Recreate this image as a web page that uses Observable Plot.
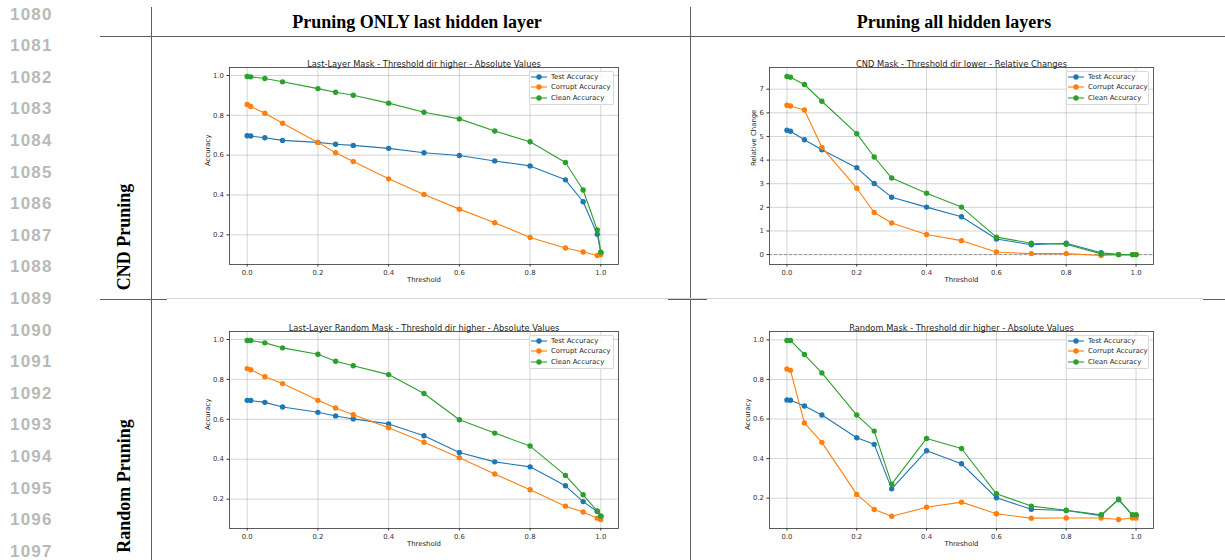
<!DOCTYPE html>
<html><head><meta charset="utf-8">
<script src="https://cdn.jsdelivr.net/npm/d3@7"></script>
<script src="https://cdn.jsdelivr.net/npm/@observablehq/plot@0.6"></script>
<style>
body{margin:0;background:#fff;}
#page{position:relative;width:1225px;height:560px;overflow:hidden;background:#fff;}
.ln{position:absolute;left:10px;font-family:"Liberation Sans",Arial,sans-serif;font-weight:bold;font-size:17px;line-height:17px;color:#b9b9b9;letter-spacing:1.2px;}
.hdr{position:absolute;font-family:"Liberation Serif","Times New Roman",serif;font-weight:bold;font-size:18px;line-height:18px;white-space:nowrap;transform:translateX(-50%);color:#000;}
.rowlab{position:absolute;font-family:"Liberation Serif","Times New Roman",serif;font-weight:bold;font-size:18px;line-height:18px;white-space:nowrap;transform:translate(-50%,-50%) rotate(-90deg);color:#000;}
.rule{position:absolute;background:#5e5e5e;}
.panel{position:absolute;}
.legend{position:absolute;border:1px solid #d9d9d9;border-radius:2px;background:rgba(255,255,255,0.85);box-sizing:border-box;}
.legend .lt{position:absolute;font-family:"DejaVu Sans",sans-serif;font-size:6.9px;line-height:8px;color:#262626;white-space:nowrap;}
.legend svg{position:absolute;overflow:visible;}
</style>
</head><body>
<div id="page"></div>
<script>
// ---------- data ----------
const lineNumbers = [1080,1081,1082,1083,1084,1085,1086,1087,1088,1089,1090,1091,1092,1093,1094,1095,1096,1097];
const columnHeaders = ["Pruning ONLY last hidden layer", "Pruning all hidden layers"];
const rowHeaders = ["CND Pruning", "Random Pruning"];
const seriesNames = ["Test Accuracy", "Corrupt Accuracy", "Clean Accuracy"];
const seriesColors = ["#1f77b4", "#ff7f0e", "#2ca02c"];
const thresholds = [0, 0.01, 0.05, 0.1, 0.2, 0.25, 0.3, 0.4, 0.5, 0.6, 0.7, 0.8, 0.9, 0.95, 0.99, 1.0];
const xTicks = [0, 0.2, 0.4, 0.6, 0.8, 1.0];
const accTicks = [0.2, 0.4, 0.6, 0.8, 1.0];
const relTicks = [0, 1, 2, 3, 4, 5, 6, 7];

// Last-Layer Mask (CND, last layer)
const llTest    = [0.697,0.696,0.687,0.674,0.664,0.655,0.649,0.634,0.612,0.598,0.571,0.546,0.476,0.366,0.203,0.111];
const llCorrupt = [0.854,0.844,0.810,0.760,0.664,0.612,0.568,0.481,0.403,0.329,0.261,0.187,0.134,0.114,0.096,0.101];
const llClean   = [0.995,0.993,0.985,0.968,0.934,0.916,0.901,0.861,0.815,0.782,0.721,0.667,0.563,0.425,0.224,0.113];
// CND Mask relative changes (all layers)
const cndTest    = [5.26,5.22,4.86,4.44,3.68,3.01,2.43,2.01,1.60,0.66,0.42,0.48,0.08,0,0,0];
const cndCorrupt = [6.32,6.29,6.12,4.54,2.81,1.78,1.34,0.85,0.59,0.11,0.04,0.04,-0.04,0,0,0];
const cndClean   = [7.54,7.51,7.20,6.49,5.12,4.13,3.24,2.60,2.01,0.74,0.48,0.44,0.03,0,0,0];
// Last-Layer Random Mask
const lrTest    = [0.695,0.694,0.685,0.662,0.635,0.617,0.602,0.577,0.518,0.434,0.387,0.362,0.267,0.188,0.138,0.115];
const lrCorrupt = [0.854,0.848,0.813,0.779,0.695,0.657,0.623,0.558,0.485,0.408,0.326,0.247,0.165,0.136,0.105,0.098];
const lrClean   = [0.995,0.995,0.983,0.958,0.926,0.891,0.868,0.824,0.729,0.598,0.531,0.466,0.319,0.222,0.141,0.115];
// Random Mask (all layers)
const rmTest    = [0.696,0.695,0.666,0.620,0.505,0.472,0.247,0.440,0.374,0.202,0.144,0.138,0.112,0.195,0.112,0.112];
const rmCorrupt = [0.853,0.846,0.580,0.482,0.219,0.143,0.109,0.154,0.180,0.121,0.099,0.100,0.100,0.092,0.100,0.100];
const rmClean   = [0.997,0.997,0.926,0.833,0.620,0.539,0.271,0.502,0.451,0.222,0.160,0.139,0.116,0.192,0.116,0.116];

const panelTitles = [
  "Last-Layer Mask - Threshold dir higher - Absolute Values",
  "CND Mask - Threshold dir lower - Relative Changes",
  "Last-Layer Random Mask - Threshold dir higher - Absolute Values",
  "Random Mask - Threshold dir higher - Absolute Values"
];

// ---------- layout ----------
const page = document.getElementById("page");
function el(tag, cls, style, text) {
  const e = document.createElement(tag);
  if (cls) e.className = cls;
  Object.assign(e.style, style || {});
  if (text != null) e.textContent = text;
  page.appendChild(e);
  return e;
}
lineNumbers.forEach((n, i) => el("div", "ln", {top: (13.8 + 31.6 * i - 8.3) + "px"}, String(n)));

// rules
el("div", "rule", {left: "151px", top: "7px", width: "1px", height: "553px"});
el("div", "rule", {left: "690px", top: "7px", width: "1.3px", height: "553px"});
el("div", "rule", {left: "100px", top: "35.5px", width: "1125px", height: "1px"});
el("div", "rule", {left: "167px", top: "298.3px", width: "1036px", height: "1px", background: "#d4d4d4"});
el("div", "rule", {left: "100px", top: "299.3px", width: "67px", height: "1.2px"});
el("div", "rule", {left: "668px", top: "299.3px", width: "39px", height: "1.2px"});
el("div", "rule", {left: "1203px", top: "299.3px", width: "22px", height: "1.2px"});

el("div", "hdr", {left: "417px", top: "13px"}, columnHeaders[0]);
el("div", "hdr", {left: "954px", top: "13px"}, columnHeaders[1]);
el("div", "rowlab", {left: "124px", top: "237px"}, rowHeaders[0]);
el("div", "rowlab", {left: "124px", top: "486px"}, rowHeaders[1]);

function pad(ext) { const p = (ext[1] - ext[0]) * 0.05; return [ext[0] - p, ext[1] + p]; }

function panel({left, top, width, height, mL, mR, mT, mB, title, ylabel, ylabelDx, series, yTicks, yFormat, zeroLine, legendW}) {
  const rows = series.flatMap((vals, k) => thresholds.map((t, i) => ({t, v: vals[i], name: seriesNames[k]})));
  const grid = {stroke: "#b0b0b0", strokeOpacity: 0.7, strokeWidth: 0.8};
  const marks = [
    Plot.gridX(xTicks, grid),
    Plot.gridY(yTicks, grid),
    zeroLine ? Plot.ruleY([0], {stroke: "#808080", strokeWidth: 0.8, strokeDasharray: "3,2"}) : null
  ];
  seriesNames.forEach((name) => {
    const d = rows.filter(r => r.name === name);
    marks.push(Plot.line(d, {x: "t", y: "v", stroke: "name", strokeWidth: 1.1}));
    marks.push(Plot.dot(d, {x: "t", y: "v", fill: "name", r: 2.7}));
  });
  marks.push(
    Plot.frame({stroke: "#333", strokeWidth: 0.8}),
    Plot.axisX(xTicks, {tickFormat: d3.format(".1f"), tickSize: 2.5, tickPadding: 3, label: null, fontSize: 6.9}),
    Plot.axisY(yTicks, {tickFormat: yFormat, tickSize: 2.5, tickPadding: 3, label: null, fontSize: 6.9}),
    Plot.text([title], {frameAnchor: "top", dy: -6.7, fontSize: 8.3, fill: "#262626"}),
    Plot.text(["Threshold"], {frameAnchor: "bottom", dy: 17.8, fontSize: 6.9, fill: "#262626"}),
    Plot.text([ylabel], {frameAnchor: "left", dx: ylabelDx, rotate: -90, fontSize: 6.9, fill: "#262626"})
  );
  const chart = Plot.plot({
    width, height,
    marginLeft: mL, marginRight: mR, marginTop: mT, marginBottom: mB,
    x: {domain: pad(d3.extent(thresholds))},
    y: {domain: pad(d3.extent(rows, d => d.v))},
    color: {domain: seriesNames, range: seriesColors},
    style: {fontFamily: "DejaVu Sans, sans-serif", fontSize: "6.9px", color: "#333", background: "transparent", overflow: "visible"},
    marks
  });
  const box = el("div", "panel", {left: left + "px", top: top + "px", width: width + "px", height: height + "px"});
  box.appendChild(chart);
  // legend
  const lg = document.createElement("div");
  lg.className = "legend";
  Object.assign(lg.style, {left: (width - mR - 4 - legendW) + "px", top: (mT + 4) + "px", width: legendW + "px", height: "34px"});
  seriesNames.forEach((name, i) => {
    const cy = 5.7 + i * 10.65;
    const ns = "http://www.w3.org/2000/svg";
    const s = document.createElementNS(ns, "svg");
    s.setAttribute("width", "16"); s.setAttribute("height", "6");
    s.style.left = "1.2px"; s.style.top = (cy - 3 - 1) + "px";
    const ln = document.createElementNS(ns, "line");
    ln.setAttribute("x1", 0); ln.setAttribute("x2", 16); ln.setAttribute("y1", 3); ln.setAttribute("y2", 3);
    ln.setAttribute("stroke", seriesColors[i]); ln.setAttribute("stroke-width", 1.1);
    const c = document.createElementNS(ns, "circle");
    c.setAttribute("cx", 8); c.setAttribute("cy", 3); c.setAttribute("r", 2.7); c.setAttribute("fill", seriesColors[i]);
    s.appendChild(ln); s.appendChild(c);
    lg.appendChild(s);
    const t = document.createElement("div");
    t.className = "lt";
    t.style.left = "21px"; t.style.top = (cy - 4 - 1) + "px";
    t.textContent = name;
    lg.appendChild(t);
  });
  box.appendChild(lg);
}

panel({left: 180, top: 45, width: 450, height: 250, mL: 49, mR: 12, mT: 22, mB: 31,
  title: panelTitles[0], ylabel: "Accuracy", ylabelDx: -22, series: [llTest, llCorrupt, llClean],
  yTicks: accTicks, yFormat: d3.format(".1f"), zeroLine: false, legendW: 85});
panel({left: 720, top: 45, width: 445, height: 250, mL: 49, mR: 12, mT: 22, mB: 31,
  title: panelTitles[1], ylabel: "Relative Change", ylabelDx: -15.5, series: [cndTest, cndCorrupt, cndClean],
  yTicks: relTicks, yFormat: d3.format("d"), zeroLine: true, legendW: 83});
panel({left: 180, top: 308, width: 450, height: 250, mL: 49, mR: 12, mT: 23, mB: 30,
  title: panelTitles[2], ylabel: "Accuracy", ylabelDx: -22, series: [lrTest, lrCorrupt, lrClean],
  yTicks: accTicks, yFormat: d3.format(".1f"), zeroLine: false, legendW: 85});
panel({left: 720, top: 308, width: 445, height: 250, mL: 49, mR: 12, mT: 23, mB: 30,
  title: panelTitles[3], ylabel: "Accuracy", ylabelDx: -22, series: [rmTest, rmCorrupt, rmClean],
  yTicks: accTicks, yFormat: d3.format(".1f"), zeroLine: false, legendW: 83});
</script>
</body></html>
